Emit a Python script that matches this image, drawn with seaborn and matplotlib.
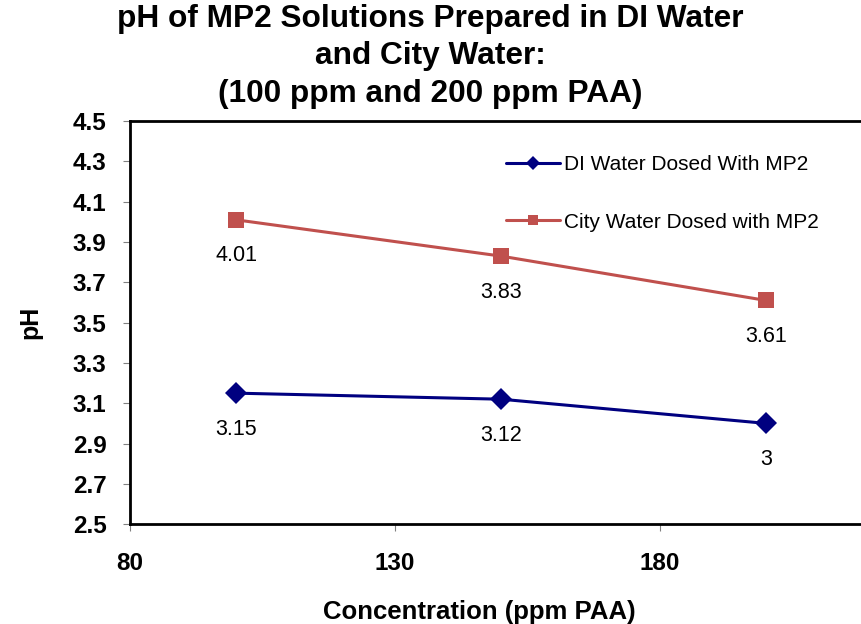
import pandas as pd
import matplotlib.pyplot as plt
import seaborn as sns

# Dados
concentracao = [100, 150, 200]
ph_di = [3.15, 3.12, 3.00]
ph_city = [4.01, 3.83, 3.61]
rotulos_di = ["3.15", "3.12", "3"]
rotulos_city = ["4.01", "3.83", "3.61"]
serie_di = "DI Water Dosed With MP2"
serie_city = "City Water Dosed with MP2"
x_ticks = [80, 130, 180]
y_ticks = [2.5, 2.7, 2.9, 3.1, 3.3, 3.5, 3.7, 3.9, 4.1, 4.3, 4.5]

df = pd.DataFrame({
    "Concentracao": concentracao * 2,
    "pH": ph_di + ph_city,
    "Serie": [serie_di] * 3 + [serie_city] * 3,
})

sns.set_style("white")
plt.rcParams["font.family"] = ["Liberation Sans", "DejaVu Sans"]
plt.rcParams["text.color"] = "black"
plt.rcParams["axes.labelcolor"] = "black"
plt.rcParams["xtick.color"] = "black"
plt.rcParams["ytick.color"] = "black"

fig = plt.figure(figsize=(8.61, 6.24), dpi=100)
ax = fig.add_axes([0.151, 0.160, 0.9233, 0.646])

cores = {serie_di: "#000080", serie_city: "#C0504D"}
marcadores = {serie_di: "D", serie_city: "s"}
sns.lineplot(data=df, x="Concentracao", y="pH", hue="Serie", style="Serie",
             palette=cores, markers=marcadores, dashes=False, linewidth=2.2,
             markersize=11, markeredgewidth=0, ax=ax)

# Rótulos de dados
for xs, ys, labs in [(concentracao, ph_di, rotulos_di), (concentracao, ph_city, rotulos_city)]:
    for x, y, t in zip(xs, ys, labs):
        ax.annotate(t, (x, y), xytext=(0, -26), textcoords="offset points",
                    ha="center", va="center", fontsize=15.5)

ax.set_xlim(80, 230)
ax.set_ylim(2.5, 4.5)
ax.set_xticks(x_ticks)
ax.set_yticks(y_ticks)
ax.set_yticklabels([f"{v:.1f}" for v in y_ticks])
ax.tick_params(axis="both", which="major", direction="out",
               length=5, width=0.8, color="#808080", left=True, bottom=True)
ax.tick_params(axis="x", labelsize=17.5, pad=15)
ax.tick_params(axis="y", labelsize=17.5, pad=12)
for lab in ax.get_xticklabels() + ax.get_yticklabels():
    lab.set_fontweight("bold")

for lado in ["left", "bottom", "top", "right"]:
    ax.spines[lado].set_color("black")
    ax.spines[lado].set_linewidth(2)

ax.set_xlabel("Concentration (ppm PAA)", fontsize=18.5, fontweight="bold", va="center")
ax.xaxis.set_label_coords(0.439, -0.218)
ax.set_ylabel("pH", fontsize=18, fontweight="bold", va="center")
ax.yaxis.set_label_coords(-0.126, 0.5)

fig.text(0.50, 0.994, "pH of MP2 Solutions Prepared in DI Water\nand City Water:\n(100 ppm and 200 ppm PAA)",
         ha="center", va="top", fontsize=22.8, fontweight="bold", linespacing=1.33)

leg = ax.legend(loc="upper left", bbox_to_anchor=(0.450, 0.962), frameon=False,
                fontsize=15, handlelength=2.57, labelspacing=1.85, handletextpad=0.2)
for h in leg.legend_handles:
    h.set_markersize(7)

plt.savefig("out.png", dpi=100)
plt.close()
